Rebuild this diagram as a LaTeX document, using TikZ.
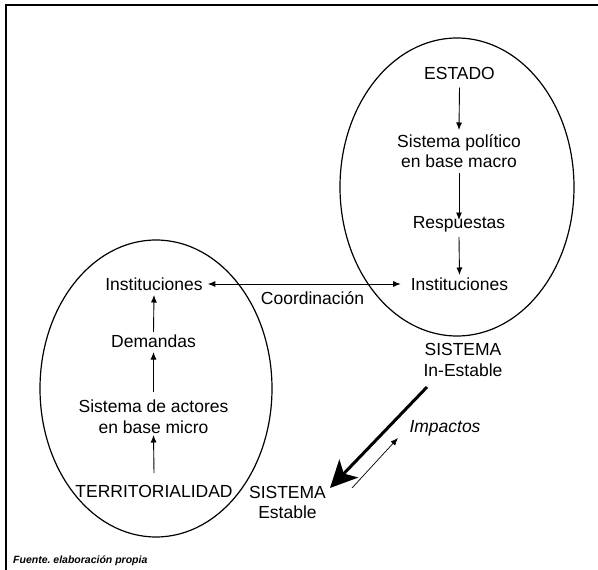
\documentclass[tikz,border=0pt]{standalone}
\usepackage{fontspec}
\setmainfont{Liberation Sans}
\usetikzlibrary{arrows.meta}
\begin{document}
\begin{tikzpicture}[x=1pt,y=-1pt,
  every node/.style={inner sep=0pt,font=\fontsize{17.5}{20.5}\selectfont},
  lbl/.style={text height=12.6pt,text depth=0pt},
  two/.style={align=center},
  thin arrow/.style={line width=0.9pt,-{Latex[length=7.5pt,width=6pt]}},
  big arrow/.style={line width=3pt,-{Stealth[length=27pt,width=26pt,inset=7pt]}},
  oval/.style={line width=1.2pt}]
\useasboundingbox (0,0) rectangle (598,570);
% frame
\draw[line width=1.2pt] (598,5) -- (6,5) -- (6,570);
% ellipses
\draw[oval] (457,187) ellipse [x radius=117pt, y radius=149pt];
\draw[oval] (156,388.5) ellipse [x radius=116pt, y radius=148.5pt];
% right column
\node[lbl] (estado) at (459.5,73) {ESTADO};
\node[two] (spol) at (459,151) {Sistema político\\en base macro};
\node[lbl] (resp) at (459,222) {Respuestas};
\node[lbl] (instR) at (459.5,284) {Instituciones};
\node[two] (sisIn) at (463,360) {SISTEMA\\In-Estable};
% left column
\node[lbl] (instL) at (154,284) {Instituciones};
\node[lbl] (dem) at (153.5,341) {Demandas};
\node[two] (sact) at (153.5,416.5) {Sistema de actores\\en base micro};
\node[lbl] (terr) at (154,491) {TERRITORIALIDAD};
% middle
\node[lbl] (coord) at (312.5,298) {Coordinación};
\node[two] (sisE) at (287.5,502.7) {SISTEMA\\Estable};
\node[lbl,font=\fontsize{17.5}{20.5}\selectfont\itshape] (imp) at (445,426) {Impactos};
\node[anchor=base west,font=\fontsize{10.5}{13}\selectfont\bfseries\itshape] (fuente) at (13,563) {Fuente.\ elaboración propia};
% right arrows
\draw[thin arrow] ([yshift=-8pt]estado.south) -- ([yshift=21pt]spol.center);
\draw[thin arrow] ([yshift=-22pt]spol.center) -- ([yshift=2pt]resp.center);
\draw[thin arrow] ([yshift=-15pt]resp.center) -- ([yshift=9pt]instR.center);
% left arrows
\draw[thin arrow] ([yshift=18pt]terr.center) -- ([yshift=-18.5pt]sact.center);
\draw[thin arrow] ([yshift=25pt]sact.center) -- ([yshift=-11pt]dem.center);
\draw[thin arrow] ([yshift=9pt]dem.center) -- ([yshift=-11pt]instL.center);
% coordination
\draw[line width=0.9pt,{Latex[length=7.5pt,width=6pt]}-{Latex[length=7.5pt,width=6pt]}] ([xshift=5pt]instL.east) -- ([xshift=-10pt]instR.west);
% impacts
\draw[big arrow] ([xshift=-36pt,yshift=-27pt]sisIn.center) -- ([xshift=42.5pt,yshift=14.7pt]sisE.center);
\draw[thin arrow,line width=0.7pt] ([xshift=64.5pt,yshift=14.7pt]sisE.center) -- ([xshift=-65pt,yshift=-78pt]sisIn.center);
\end{tikzpicture}
\end{document}
